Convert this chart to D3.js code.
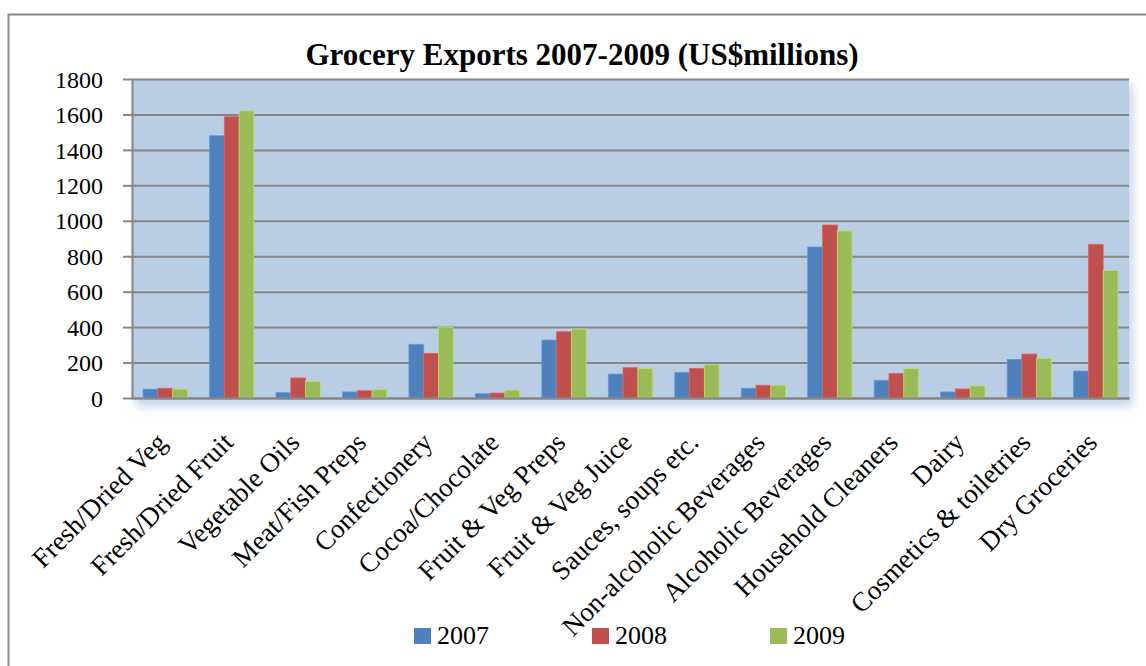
<!DOCTYPE html>
<html>
<head>
<meta charset="utf-8">
<script src="https://cdn.jsdelivr.net/npm/d3@7"></script>
<style>
  body { margin: 0; background: #fff; }
  svg { display: block; }
  text { font-family: "Liberation Serif", "DejaVu Serif", serif; fill: #000; }
</style>
</head>
<body>
<svg id="chart" width="1146" height="666"></svg>
<script>
'use strict';

const categories = [
    'Fresh/Dried Veg', 'Fresh/Dried Fruit', 'Vegetable Oils', 'Meat/Fish Preps',
    'Confectionery', 'Cocoa/Chocolate', 'Fruit & Veg Preps', 'Fruit & Veg Juice',
    'Sauces, soups etc.', 'Non-alcoholic Beverages', 'Alcoholic Beverages',
    'Household Cleaners', 'Dairy', 'Cosmetics & toiletries', 'Dry Groceries'
];
const years = ['2007', '2008', '2009'];
const values2007 = [50, 1480, 30, 34, 303, 24, 327, 135, 145, 55, 852, 100, 34, 218, 152];
const values2008 = [55, 1587, 113, 41, 252, 28, 374, 171, 167, 72, 976, 139, 51, 248, 867];
const values2009 = [50, 1620, 94, 47, 400, 45, 389, 167, 188, 72, 942, 167, 68, 224, 720];
const yTicks = [0, 200, 400, 600, 800, 1000, 1200, 1400, 1600, 1800];
const colors = ['#4f81bd', '#c0504d', '#9bbb59'];

const series = [values2007, values2008, values2009];
const rows = categories.map(function(c, i) {
    return { name: c, vals: series.map(function(s) { return s[i]; }) };
});

const FONT = '"Liberation Serif", serif';
const svg = d3.select('#chart');
const plot = { left: 132, right: 1129, top: 79, bottom: 398 };

// outer chart border (right and bottom edges fall outside the picture)
svg.append('rect')
    .attr('x', 8.5).attr('y', 14.5)
    .attr('width', 1150).attr('height', 700)
    .attr('fill', '#fff')
    .attr('stroke', '#8c8c8c')
    .attr('stroke-width', 2);

const x = d3.scaleBand()
    .domain(categories)
    .range([plot.left, plot.right])
    .paddingInner(0.333)
    .paddingOuter(0.1665);
const xInner = d3.scaleBand()
    .domain(d3.range(years.length))
    .range([0, x.bandwidth()]);
const y = d3.scaleLinear()
    .domain([0, 1800])
    .range([plot.bottom, plot.top]);

// soft shadow round the plot area
const defs = svg.append('defs');
defs.append('filter').attr('id', 'blur')
    .attr('x', -0.1).attr('y', -0.1).attr('width', 1.2).attr('height', 1.2)
    .append('feGaussianBlur').attr('stdDeviation', 4);
svg.append('rect')
    .attr('x', plot.left + 4).attr('y', plot.top + 5)
    .attr('width', plot.right - plot.left)
    .attr('height', plot.bottom - plot.top + 4)
    .attr('fill', '#c9d7ea')
    .attr('filter', 'url(#blur)');

svg.append('rect')
    .attr('x', plot.left).attr('y', plot.top)
    .attr('width', plot.right - plot.left)
    .attr('height', plot.bottom - plot.top)
    .attr('fill', '#b9cde5');

// gridlines + y axis
const yAxis = d3.axisLeft(y)
    .tickValues(yTicks)
    .tickSize(-(plot.right - plot.left))
    .tickSizeOuter(0)
    .tickPadding(30)
    .tickFormat(d3.format('d'));
const gy = svg.append('g')
    .attr('transform', 'translate(' + plot.left + ',0)')
    .call(yAxis);
gy.select('.domain').attr('stroke', '#868686').attr('stroke-width', 2);
gy.selectAll('.tick line').attr('stroke', '#868686').attr('stroke-width', 2);
gy.selectAll('.tick').append('line')
    .attr('x1', -9).attr('x2', 0)
    .attr('stroke', '#868686').attr('stroke-width', 2);
gy.selectAll('.tick text')
    .attr('font-size', 24)
    .attr('font-family', FONT)
    .attr('fill', '#000')
    .attr('text-anchor', 'end')
    .attr('x', -29)
    .attr('dy', '0.34em');

// bars
const groups = svg.append('g').selectAll('g')
    .data(rows)
    .join('g')
    .attr('transform', function(d) { return 'translate(' + x(d.name) + ',0)'; });
groups.selectAll('rect')
    .data(function(d) { return d.vals; })
    .join('rect')
    .attr('x', function(d, i) { return xInner(i); })
    .attr('y', function(d) { return y(d); })
    .attr('width', xInner.bandwidth())
    .attr('height', function(d) { return y(0) - y(d); })
    .attr('fill', function(d, i) { return colors[i]; })
    .attr('stroke', function(d, i) { return d3.color(colors[i]).brighter(0.5); })
    .attr('stroke-width', 0.8);

// x axis
const gx = svg.append('g')
    .attr('transform', 'translate(0,' + plot.bottom + ')')
    .call(d3.axisBottom(x).tickSize(0).tickPadding(0));
gx.select('.domain').attr('stroke', '#868686').attr('stroke-width', 2);
gx.selectAll('.tick text')
    .attr('font-size', 27)
    .attr('font-family', FONT)
    .attr('fill', '#000')
    .attr('text-anchor', 'end')
    .attr('dy', 0)
    .attr('y', 0)
    .attr('transform', 'translate(3,46) rotate(-45)');

// title
svg.append('text')
    .attr('x', 582).attr('y', 65)
    .attr('text-anchor', 'middle')
    .attr('font-family', FONT)
    .attr('font-size', 31)
    .attr('font-weight', 'bold')
    .text('Grocery Exports 2007-2009 (US$millions)');

// legend
const legendX = [414, 592, 770];
const lg = svg.append('g').selectAll('g')
    .data(years)
    .join('g')
    .attr('transform', function(d, i) { return 'translate(' + legendX[i] + ',628)'; });
lg.append('rect')
    .attr('width', 17).attr('height', 16)
    .attr('fill', function(d, i) { return colors[i]; });
lg.append('text')
    .attr('x', 23).attr('y', 16)
    .attr('font-family', FONT)
    .attr('font-size', 26)
    .text(function(d) { return d; });
</script>
</body>
</html>
